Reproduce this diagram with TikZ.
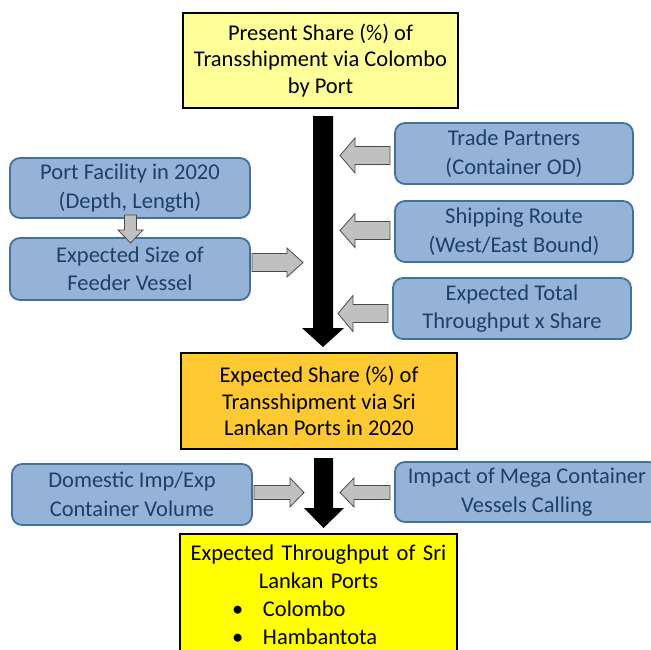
\documentclass[tikz,border=0pt]{standalone}
\usepackage{fontspec}
\setmainfont{Carlito}
\definecolor{paleyellow}{HTML}{FFFF99}
\definecolor{ambershare}{HTML}{FFC934}
\definecolor{brightyellow}{HTML}{FFFF00}
\definecolor{factorfill}{HTML}{95B3D7}
\definecolor{factorline}{HTML}{41719C}
\definecolor{factortext}{HTML}{1F3F6A}
\definecolor{arrowfill}{HTML}{C0C0C0}
\definecolor{arrowline}{HTML}{4A4A4A}

\tikzset{
  mainbox/.style={draw=black, line width=2pt, inner sep=0pt, align=center,
    font=\fontsize{22.5}{26.5}\selectfont, text=black},
  factorbox/.style={draw=factorline, fill=factorfill, line width=1.8pt,
    rounded corners=10pt, inner sep=0pt, align=center, text=factortext,
    font=\fontsize{22.5}{28.5}\selectfont},
  grayarrow/.style={draw=arrowline, fill=arrowfill, line width=0.8pt, line join=miter},
  mainarrow/.style={fill=black, draw=none},
  % gray block arrow pointing left, tip at the origin:
  % total length, head length, head half-height, shaft half-height
  pics/garrow/.style n args={4}{code={
    \draw[grayarrow] (0,0) -- (#2,-#3) -- (#2,-#4) -- (#1,-#4) -- (#1,#4)
      -- (#2,#4) -- (#2,#3) -- cycle;}}
}

\begin{document}
\begin{tikzpicture}[x=1pt,y=-1pt]
\useasboundingbox (0,0) rectangle (651,649);
\clip (0,0) rectangle (651,649);

% main flow boxes
\node[mainbox, fill=paleyellow, minimum width=275pt, minimum height=95pt]
  (present) at (320.5,60.5) {Present Share (\%) of\\Transshipment via Colombo\\by Port};
\node[mainbox, fill=ambershare, minimum width=276pt, minimum height=96pt]
  (expected) at (319,401) {Expected Share (\%) of\\Transshipment via Sri\\Lankan Ports in 2020};
\node[mainbox, fill=brightyellow, minimum width=277pt, minimum height=150pt, anchor=north]
  (throughput) at (318.5,533) {};
\node[inner sep=0pt, text width=277pt, align=left, anchor=north,
  font=\fontsize{22.5}{28}\selectfont]
  (throughputtext) at (318.5,545)
  {\makebox[\linewidth][c]{Expected Throughput of Sri}\\
   \makebox[\linewidth][c]{Lankan Ports}\\
   \hspace*{52pt}\makebox[31pt][l]{\textbullet}Colombo\\
   \hspace*{52pt}\makebox[31pt][l]{\textbullet}Hambantota};

% factor boxes
\node[factorbox, minimum width=238pt, minimum height=61pt]
  (trade) at (514,153.5) {Trade Partners\\(Container OD)};
\node[factorbox, minimum width=238pt, minimum height=61pt]
  (route) at (514,231.5) {Shipping Route\\(West/East Bound)};
\node[factorbox, minimum width=238pt, minimum height=61pt]
  (total) at (512,308.5) {Expected Total\\Throughput x Share};
\node[factorbox, minimum width=240pt, minimum height=60pt]
  (facility) at (130,188) {Port Facility in 2020\\(Depth, Length)};
\node[factorbox, minimum width=240pt, minimum height=62pt]
  (feeder) at (130,269) {Expected Size of\\Feeder Vessel};
\node[factorbox, minimum width=240pt, minimum height=61pt]
  (domestic) at (132,494.5) {Domestic Imp/Exp\\Container Volume};
\node[factorbox, minimum width=264pt, minimum height=60pt, anchor=west]
  (mega) at (394,492) {Impact of Mega Container\\Vessels Calling};

% main black arrows
\fill[mainarrow] (313,116) -- (333,116) -- (333,328) -- (344,328) -- (323,347)
  -- (302,328) -- (313,328) -- cycle;
\fill[mainarrow] (314,458) -- (333,458) -- (333,508) -- (344,508) -- (323.5,528)
  -- (304,508) -- (314,508) -- cycle;

% gray input arrows
\pic at (340,155.5) {garrow={50}{15}{17.5}{9}};
\pic at (340,230.5) {garrow={50}{15}{17}{9}};
\pic at (338,313.5) {garrow={50}{15}{18}{9}};
\pic[xscale=-1] at (303,262.5) {garrow={51}{16}{14.5}{9}};
\pic[xscale=-1] at (304,492.5) {garrow={50}{14}{14.5}{7}};
\pic at (340,492.5) {garrow={50}{14}{14.5}{7}};
\draw[grayarrow] (124.5,215) -- (136.5,215) -- (136.5,230) -- (143,230) -- (130.5,243)
  -- (118,230) -- (124.5,230) -- cycle;
\end{tikzpicture}
\end{document}
